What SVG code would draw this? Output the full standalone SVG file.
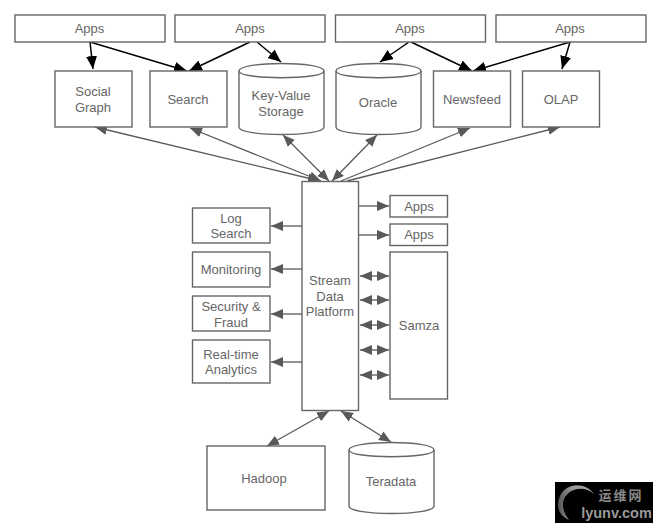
<svg xmlns="http://www.w3.org/2000/svg" width="660" height="528" viewBox="0 0 660 528">
<style>
text{font-family:"Liberation Sans",Arial,sans-serif;font-size:13px;fill:#666;text-anchor:middle}
.n{fill:#fff;stroke:#666;stroke-width:1.4}
.c{fill:none}
.k{fill:none;stroke:#000;stroke-width:1.5;marker-end:url(#b)}
.g{fill:none;stroke:#595959;stroke-width:1.3;marker-end:url(#g);marker-start:url(#g)}
.o{fill:none;stroke:#595959;stroke-width:1.3;marker-end:url(#g)}
</style>
<defs>
<marker id="b" markerUnits="userSpaceOnUse" markerWidth="15" markerHeight="12" refX="13" refY="5.500" orient="auto"><path d="M0 0L13 5.500L0 11z" fill="#000"/></marker>
<marker id="g" markerUnits="userSpaceOnUse" markerWidth="14" markerHeight="12" refX="12" refY="5" orient="auto-start-reverse"><path d="M0 0L12 5L0 10z" fill="#595959"/></marker>
<linearGradient id="w" x1="0" y1="0" x2="1" y2="0"><stop offset="0" stop-color="#555"/><stop offset="0.4" stop-color="#999"/><stop offset="1" stop-color="#aaa"/></linearGradient>
</defs>
<rect width="660" height="528" fill="#fff"/>
<g id="connectors">
<path class="k" d="M90 42L93 69"/><path class="k" d="M90 42L187 71"/><path class="k" d="M250 42L189 71"/><path class="k" d="M257 42L281 62"/>
<path class="k" d="M409 42L380 62"/><path class="k" d="M411 42L472 71"/><path class="k" d="M570 42L473 71"/><path class="k" d="M570 42L562 69"/>
<path class="g" d="M95 127L320 181"/><path class="g" d="M190 128L321 181"/><path class="g" d="M283 135L329 181"/><path class="g" d="M377 135L332 181"/><path class="o" d="M341 181L470 128"/><path class="o" d="M347 181L560 127"/>
<path class="o" d="M302 226L271 226"/><path class="o" d="M302 269L271 269"/><path class="o" d="M302 314L271 314"/><path class="o" d="M302 362L271 362"/>
<path class="o" d="M358 206L389 206"/><path class="o" d="M358 235L389 235"/>
<path class="g" d="M360 276L389 276"/><path class="g" d="M360 300L389 300"/><path class="g" d="M360 325L389 325"/><path class="g" d="M360 350L389 350"/><path class="g" d="M360 375L389 375"/>
<path class="g" d="M329 411L267 446"/><path class="g" d="M341 411L391 442"/>
</g>
<g id="apps1"><rect class="n" x="15" y="15" width="150" height="27"/><text x="89.500" y="33">Apps</text></g>
<g id="apps2"><rect class="n" x="175" y="15" width="150" height="27"/><text x="250" y="33">Apps</text></g>
<g id="apps3"><rect class="n" x="335.500" y="15" width="150" height="27"/><text x="410" y="33">Apps</text></g>
<g id="apps4"><rect class="n" x="496" y="15" width="150" height="27"/><text x="570" y="33">Apps</text></g>
<g id="social"><rect class="n" x="55" y="71" width="77" height="56"/><text x="93" y="96">Social</text><text x="93" y="111.500">Graph</text></g>
<g id="search"><rect class="n" x="150" y="71" width="77" height="56"/><text x="188" y="104">Search</text></g>
<g id="kv"><path class="n" d="M239 71C239 61 324 61 324 71V127C324 137 239 137 239 127Z"/><path class="n c" d="M239 71C239 80 324 80 324 71"/><text x="281" y="100">Key-Value</text><text x="281" y="115.500">Storage</text></g>
<g id="oracle"><path class="n" d="M336 71C336 61 421 61 421 71V127C421 137 336 137 336 127Z"/><path class="n c" d="M336 71C336 80 421 80 421 71"/><text x="378" y="107">Oracle</text></g>
<g id="newsfeed"><rect class="n" x="433.500" y="71" width="77" height="56"/><text x="472" y="104">Newsfeed</text></g>
<g id="olap"><rect class="n" x="522.500" y="71" width="77" height="56"/><text x="561" y="104">OLAP</text></g>
<g id="platform"><rect class="n" x="302" y="181.500" width="56.500" height="229"/><text x="330" y="285">Stream</text><text x="330" y="300.500">Data</text><text x="330" y="316">Platform</text></g>
<g id="log"><rect class="n" x="192.500" y="208" width="77.500" height="35"/><text x="231" y="223">Log</text><text x="231" y="238">Search</text></g>
<g id="monitoring"><rect class="n" x="192.500" y="252" width="77.500" height="35"/><text x="231" y="274">Monitoring</text></g>
<g id="security"><rect class="n" x="192.500" y="296" width="77.500" height="35"/><text x="231" y="311">Security &amp;</text><text x="231" y="327">Fraud</text></g>
<g id="realtime"><rect class="n" x="192.500" y="340" width="77.500" height="43"/><text x="231" y="359">Real-time</text><text x="231" y="374">Analytics</text></g>
<g id="apps5"><rect class="n" x="390" y="195.500" width="57.500" height="21.500"/><text x="419" y="211">Apps</text></g>
<g id="apps6"><rect class="n" x="390" y="224" width="57.500" height="21.500"/><text x="419" y="239">Apps</text></g>
<g id="samza"><rect class="n" x="390" y="252" width="57.500" height="147"/><text x="419" y="330">Samza</text></g>
<g id="hadoop"><rect class="n" x="207" y="446" width="118" height="64"/><text x="264" y="483">Hadoop</text></g>
<g id="teradata"><path class="n" d="M349 450C349 440 434 440 434 450V506C434 516 349 516 349 506Z"/><path class="n c" d="M349 450C349 459 434 459 434 450"/><text x="391" y="486">Teradata</text></g>
<g id="watermark"><rect x="555" y="482" width="98" height="41" fill="#000"/>
<path d="M594 494C586 482 566 482 560 496C555 508 560 516 569 520C563 512 561 504 565 497C571 487 586 486 594 494Z" fill="url(#w)"/>
<text x="621" y="500" style="font-family:'Noto Sans CJK SC','Liberation Sans',sans-serif;font-size:13px;font-weight:700;letter-spacing:2px;fill:#888">运维网</text>
<text x="616.500" y="518" style="font-size:14.500px;font-weight:700;fill:#999">lyunv.com</text></g>
</svg>
